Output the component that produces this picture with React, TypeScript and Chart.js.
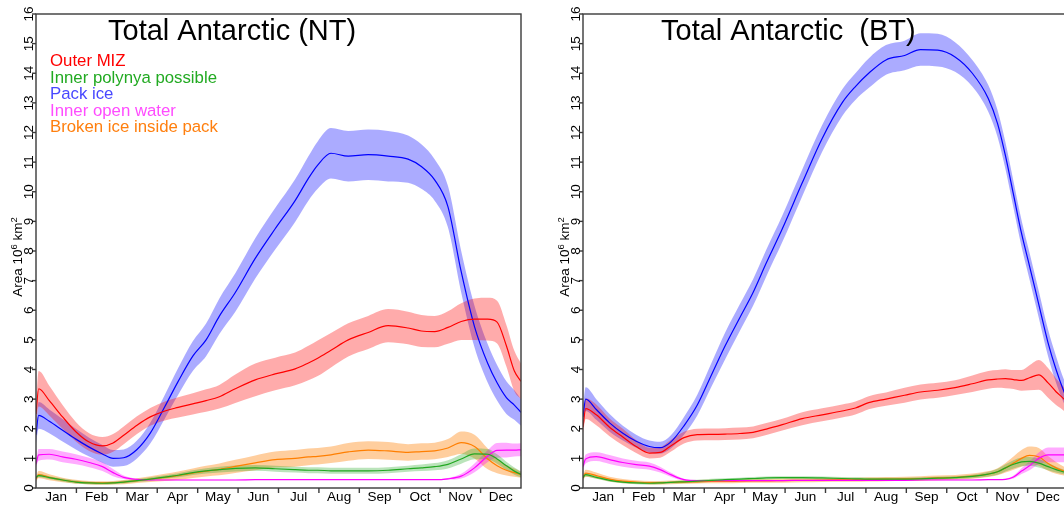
import React, { useEffect, useRef } from "react";
import { Chart, registerables } from "chart.js";

Chart.register(...registerables);

// ---------- texts ----------
const MONTH_LABELS = ["Jan", "Feb", "Mar", "Apr", "May", "Jun", "Jul", "Aug", "Sep", "Oct", "Nov", "Dec"];
const Y_TICKS = [0, 1, 2, 3, 4, 5, 6, 7, 8, 9, 10, 11, 12, 13, 14, 15, 16];
const SERIES_NAMES = ["Outer MIZ", "Inner polynya possible", "Pack ice", "Inner open water", "Broken ice inside pack"];
const NT_TITLE = "Total Antarctic (NT)";
const BT_TITLE = "Total Antarctic  (BT)";
const Y_TITLE_MAIN = "Area 10";
const Y_TITLE_SUP1 = "6";
const Y_TITLE_UNIT = " km";
const Y_TITLE_SUP2 = "2";

// ---------- NT panel data (day of year, mean, half-spread) ----------
const NT_DAYS = [0, 2, 10, 20, 30, 40, 50, 58, 66, 76, 86, 97, 107, 118, 128, 138, 150, 165, 180, 195, 205, 212, 222, 235, 250, 265, 280, 290, 300, 310, 320, 330, 340, 347, 354, 360, 365];
const NT_OUTER_MIZ = [2.5, 3.35, 2.95, 2.4, 1.9, 1.55, 1.42, 1.52, 1.78, 2.12, 2.4, 2.6, 2.72, 2.84, 2.95, 3.08, 3.35, 3.65, 3.85, 4.02, 4.22, 4.38, 4.65, 5.0, 5.25, 5.48, 5.4, 5.3, 5.28, 5.42, 5.62, 5.7, 5.7, 5.6, 4.8, 3.95, 3.6];
const NT_OUTER_MIZ_SPREAD = [0.3, 0.6, 0.5, 0.4, 0.33, 0.3, 0.3, 0.3, 0.3, 0.3, 0.3, 0.32, 0.34, 0.36, 0.38, 0.4, 0.48, 0.55, 0.55, 0.55, 0.58, 0.6, 0.58, 0.56, 0.56, 0.56, 0.55, 0.54, 0.53, 0.55, 0.62, 0.7, 0.72, 0.72, 0.7, 0.68, 0.6];
const NT_INNER_POLYNYA = [0.35, 0.42, 0.35, 0.27, 0.2, 0.17, 0.16, 0.17, 0.2, 0.25, 0.3, 0.37, 0.43, 0.52, 0.58, 0.62, 0.66, 0.68, 0.65, 0.62, 0.6, 0.6, 0.58, 0.58, 0.58, 0.6, 0.65, 0.68, 0.72, 0.8, 0.98, 1.15, 1.14, 0.98, 0.75, 0.57, 0.46];
const NT_INNER_POLYNYA_SPREAD = [0.05, 0.06, 0.05, 0.05, 0.05, 0.04, 0.04, 0.04, 0.05, 0.05, 0.06, 0.06, 0.07, 0.08, 0.09, 0.1, 0.1, 0.1, 0.1, 0.1, 0.1, 0.1, 0.1, 0.1, 0.1, 0.1, 0.1, 0.11, 0.12, 0.14, 0.16, 0.18, 0.18, 0.16, 0.14, 0.12, 0.1];
const NT_PACK_ICE = [1.8, 2.45, 2.25, 1.95, 1.65, 1.38, 1.15, 1.0, 1.02, 1.3, 1.85, 2.75, 3.6, 4.45, 5.0, 5.8, 6.6, 7.75, 8.75, 9.7, 10.45, 10.9, 11.3, 11.2, 11.25, 11.2, 11.1, 10.85, 10.4, 9.5, 7.3, 5.45, 4.2, 3.55, 3.05, 2.8, 2.55];
const NT_PACK_ICE_SPREAD = [0.3, 0.45, 0.4, 0.38, 0.35, 0.32, 0.3, 0.28, 0.28, 0.3, 0.35, 0.4, 0.45, 0.5, 0.55, 0.6, 0.65, 0.68, 0.7, 0.72, 0.75, 0.8, 0.85, 0.85, 0.85, 0.85, 0.8, 0.75, 0.7, 0.7, 0.7, 0.7, 0.65, 0.6, 0.55, 0.5, 0.45];
const NT_INNER_OPEN_WATER = [0.8, 1.12, 1.14, 1.05, 0.97, 0.86, 0.72, 0.52, 0.36, 0.29, 0.27, 0.27, 0.27, 0.27, 0.27, 0.27, 0.27, 0.28, 0.28, 0.28, 0.28, 0.28, 0.28, 0.28, 0.28, 0.28, 0.28, 0.28, 0.28, 0.31, 0.4, 0.68, 1.08, 1.27, 1.28, 1.28, 1.29];
const NT_INNER_OPEN_WATER_SPREAD = [0.1, 0.2, 0.18, 0.18, 0.17, 0.16, 0.15, 0.12, 0.06, 0.02, 0.01, 0.01, 0.01, 0.01, 0.01, 0.01, 0.01, 0.01, 0.01, 0.01, 0.01, 0.01, 0.01, 0.01, 0.01, 0.01, 0.01, 0.01, 0.01, 0.03, 0.08, 0.15, 0.2, 0.25, 0.25, 0.22, 0.22];
const NT_BROKEN_ICE = [0.3, 0.45, 0.36, 0.27, 0.21, 0.18, 0.17, 0.18, 0.2, 0.25, 0.3, 0.36, 0.42, 0.5, 0.57, 0.63, 0.73, 0.85, 0.96, 1.0, 1.05, 1.07, 1.12, 1.22, 1.28, 1.25, 1.2, 1.23, 1.25, 1.35, 1.53, 1.4, 0.98, 0.75, 0.6, 0.52, 0.45];
const NT_BROKEN_ICE_SPREAD = [0.08, 0.12, 0.1, 0.08, 0.07, 0.06, 0.06, 0.06, 0.07, 0.08, 0.1, 0.12, 0.14, 0.16, 0.18, 0.2, 0.22, 0.25, 0.27, 0.28, 0.28, 0.28, 0.28, 0.3, 0.3, 0.3, 0.28, 0.28, 0.28, 0.3, 0.38, 0.4, 0.35, 0.25, 0.18, 0.14, 0.1];

// ---------- BT panel data ----------
const BT_DAYS = [0, 2, 10, 20, 30, 40, 50, 58, 66, 76, 86, 97, 107, 118, 128, 138, 150, 165, 180, 195, 205, 215, 228, 242, 254, 267, 280, 293, 305, 312, 318, 324, 330, 336, 343, 350, 356, 362, 365];
const BT_OUTER_MIZ = [2.05, 2.68, 2.47, 2.05, 1.72, 1.4, 1.18, 1.2, 1.42, 1.7, 1.8, 1.81, 1.82, 1.84, 1.88, 1.99, 2.14, 2.34, 2.47, 2.6, 2.7, 2.88, 3.0, 3.13, 3.24, 3.3, 3.39, 3.52, 3.65, 3.68, 3.69, 3.66, 3.63, 3.72, 3.82, 3.55, 3.25, 3.0, 2.85];
const BT_OUTER_MIZ_SPREAD = [0.2, 0.35, 0.35, 0.3, 0.28, 0.22, 0.18, 0.18, 0.2, 0.2, 0.2, 0.2, 0.2, 0.2, 0.2, 0.2, 0.2, 0.22, 0.22, 0.22, 0.22, 0.22, 0.22, 0.25, 0.25, 0.25, 0.25, 0.28, 0.3, 0.3, 0.32, 0.32, 0.35, 0.42, 0.5, 0.5, 0.45, 0.4, 0.4];
const BT_INNER_POLYNYA = [0.35, 0.45, 0.36, 0.26, 0.2, 0.17, 0.16, 0.17, 0.19, 0.21, 0.23, 0.26, 0.28, 0.3, 0.32, 0.34, 0.35, 0.35, 0.34, 0.32, 0.31, 0.3, 0.3, 0.3, 0.31, 0.33, 0.35, 0.39, 0.47, 0.55, 0.68, 0.8, 0.88, 0.9, 0.84, 0.72, 0.62, 0.54, 0.5];
const BT_INNER_POLYNYA_SPREAD = [0.05, 0.06, 0.05, 0.05, 0.04, 0.04, 0.04, 0.04, 0.04, 0.05, 0.05, 0.05, 0.05, 0.05, 0.05, 0.05, 0.05, 0.05, 0.05, 0.05, 0.05, 0.05, 0.05, 0.05, 0.05, 0.05, 0.05, 0.06, 0.08, 0.1, 0.12, 0.14, 0.15, 0.15, 0.15, 0.12, 0.1, 0.08, 0.08];
const BT_PACK_ICE = [2.4, 3.0, 2.65, 2.2, 1.85, 1.58, 1.4, 1.36, 1.55, 2.1, 2.8, 3.85, 4.8, 5.75, 6.6, 7.6, 8.75, 10.3, 11.8, 13.0, 13.55, 14.0, 14.45, 14.6, 14.8, 14.78, 14.55, 14.0, 13.15, 12.3, 11.2, 9.9, 8.6, 7.5, 6.2, 4.9, 4.0, 3.25, 2.95];
const BT_PACK_ICE_SPREAD = [0.3, 0.4, 0.35, 0.3, 0.25, 0.22, 0.2, 0.2, 0.22, 0.3, 0.35, 0.4, 0.45, 0.45, 0.45, 0.45, 0.45, 0.45, 0.45, 0.45, 0.45, 0.5, 0.5, 0.5, 0.55, 0.55, 0.5, 0.45, 0.45, 0.45, 0.45, 0.45, 0.45, 0.45, 0.45, 0.45, 0.45, 0.4, 0.4];
const BT_INNER_OPEN_WATER = [0.72, 0.98, 1.06, 0.96, 0.86, 0.79, 0.74, 0.62, 0.45, 0.28, 0.25, 0.25, 0.25, 0.25, 0.25, 0.25, 0.25, 0.26, 0.26, 0.26, 0.26, 0.26, 0.26, 0.26, 0.27, 0.27, 0.27, 0.27, 0.28, 0.28, 0.29, 0.37, 0.57, 0.75, 1.0, 1.12, 1.12, 1.12, 1.12];
const BT_INNER_OPEN_WATER_SPREAD = [0.1, 0.15, 0.15, 0.15, 0.14, 0.13, 0.12, 0.1, 0.07, 0.03, 0.01, 0.01, 0.01, 0.01, 0.01, 0.01, 0.01, 0.01, 0.01, 0.01, 0.01, 0.01, 0.01, 0.01, 0.01, 0.01, 0.01, 0.01, 0.01, 0.01, 0.02, 0.05, 0.1, 0.15, 0.2, 0.25, 0.25, 0.25, 0.25];
const BT_BROKEN_ICE = [0.35, 0.5, 0.42, 0.3, 0.23, 0.2, 0.18, 0.18, 0.19, 0.2, 0.21, 0.22, 0.22, 0.23, 0.24, 0.24, 0.25, 0.26, 0.27, 0.28, 0.28, 0.29, 0.3, 0.31, 0.32, 0.34, 0.36, 0.4, 0.47, 0.55, 0.68, 0.84, 1.0, 1.1, 1.05, 0.83, 0.68, 0.57, 0.52];
const BT_BROKEN_ICE_SPREAD = [0.1, 0.12, 0.1, 0.08, 0.07, 0.06, 0.06, 0.06, 0.06, 0.06, 0.06, 0.06, 0.06, 0.06, 0.06, 0.06, 0.07, 0.07, 0.07, 0.07, 0.07, 0.07, 0.07, 0.07, 0.08, 0.08, 0.08, 0.09, 0.1, 0.12, 0.16, 0.22, 0.28, 0.3, 0.3, 0.25, 0.2, 0.15, 0.12];

// ---------- styles ----------
const FONT = '"Liberation Sans", Arial, Helvetica, sans-serif';
const LINE_COLORS = ["#FF0000", "#22A822", "#0000FF", "#FF00FF", "#FF7F00"];
const BAND_COLORS = [
  "rgba(255,0,0,0.33)",
  "rgba(40,170,40,0.32)",
  "rgba(0,0,255,0.33)",
  "rgba(255,0,255,0.33)",
  "rgba(255,127,0,0.38)",
];
const LEGEND_COLORS = ["#FF0000", "#22AA22", "#4848FF", "#FF4CFF", "#FF7F0E"];
const AXIS_COLOR = "#3a3a3a";

type Series = { mean: number[]; spread: number[] };

function buildDatasets(days: number[], series: Series[]) {
  const ds: any[] = [];
  series.forEach((s, i) => {
    ds.push({
      data: days.map((d, k) => ({ x: d, y: s.mean[k] + s.spread[k] })),
      borderColor: "rgba(0,0,0,0)",
      borderWidth: 0,
      backgroundColor: BAND_COLORS[i],
      fill: "+1",
      pointRadius: 0,
      cubicInterpolationMode: "monotone",
      order: 20 + i,
    });
    ds.push({
      data: days.map((d, k) => ({ x: d, y: Math.max(0, s.mean[k] - s.spread[k]) })),
      borderColor: "rgba(0,0,0,0)",
      borderWidth: 0,
      backgroundColor: "rgba(0,0,0,0)",
      fill: false,
      pointRadius: 0,
      cubicInterpolationMode: "monotone",
      order: 20 + i,
    });
  });
  series.forEach((s, i) => {
    ds.push({
      data: days.map((d, k) => ({ x: d, y: s.mean[k] })),
      borderColor: LINE_COLORS[i],
      borderWidth: 1.2,
      fill: false,
      pointRadius: 0,
      cubicInterpolationMode: "monotone",
      order: i,
    });
  });
  return ds;
}

function makeDecor(title: string, titleOffset: number, showLegend: boolean) {
  return {
    id: "decor",
    afterDraw(chart: any) {
      const { ctx, chartArea: a, scales } = chart;
      const x = scales.x;
      const y = scales.y;
      ctx.save();
      // frame
      ctx.strokeStyle = AXIS_COLOR;
      ctx.lineWidth = 1.4;
      ctx.strokeRect(a.left, a.top, a.right - a.left, a.bottom - a.top);

      // y ticks and labels
      ctx.fillStyle = "#000";
      ctx.font = `13.5px ${FONT}`;
      Y_TICKS.forEach((v) => {
        const py = y.getPixelForValue(v);
        ctx.beginPath();
        ctx.moveTo(a.left - 4, py);
        ctx.lineTo(a.left, py);
        ctx.stroke();
        ctx.save();
        ctx.translate(a.left - 3.5, py);
        ctx.rotate(-Math.PI / 2);
        ctx.textAlign = "center";
        ctx.textBaseline = "alphabetic";
        ctx.fillText(String(v), 0, 0);
        ctx.restore();
      });

      // x ticks (equal month spacing) and month labels
      const span = x.max - x.min;
      for (let i = 1; i < 12; i++) {
        const px = x.getPixelForValue(x.min + (span * i) / 12);
        ctx.beginPath();
        ctx.moveTo(px, a.bottom);
        ctx.lineTo(px, a.bottom + 5);
        ctx.stroke();
      }
      ctx.textAlign = "center";
      ctx.textBaseline = "alphabetic";
      MONTH_LABELS.forEach((m, i) => {
        const px = x.getPixelForValue(x.min + (span * (i + 0.5)) / 12);
        ctx.fillText(m, px, a.bottom + 13);
      });

      // y axis title with superscripts
      const parts: [string, string, number][] = [
        [Y_TITLE_MAIN, `13.5px ${FONT}`, 0],
        [Y_TITLE_SUP1, `9.5px ${FONT}`, -5],
        [Y_TITLE_UNIT, `13.5px ${FONT}`, 0],
        [Y_TITLE_SUP2, `9.5px ${FONT}`, -5],
      ];
      ctx.save();
      ctx.translate(a.left - 14.5, 257);
      ctx.rotate(-Math.PI / 2);
      let total = 0;
      parts.forEach((p) => {
        ctx.font = p[1];
        total += ctx.measureText(p[0]).width;
      });
      let cx = -total / 2;
      ctx.textAlign = "left";
      parts.forEach((p) => {
        ctx.font = p[1];
        ctx.fillText(p[0], cx, p[2]);
        cx += ctx.measureText(p[0]).width;
      });
      ctx.restore();

      // panel title
      ctx.textAlign = "left";
      ctx.fillStyle = "#000";
      ctx.font = `29px ${FONT}`;
      ctx.fillText(title, a.left + titleOffset, 40);

      // text legend
      if (showLegend) {
        ctx.font = `16.8px ${FONT}`;
        SERIES_NAMES.forEach((n, i) => {
          ctx.fillStyle = LEGEND_COLORS[i];
          ctx.fillText(n, a.left + 14, 66 + i * 16.6);
        });
      }
      ctx.restore();
    },
  };
}

type PanelProps = {
  left: number;
  width: number;
  padding: { left: number; right: number; top: number; bottom: number };
  title: string;
  titleOffset: number;
  days: number[];
  series: Series[];
  showLegend: boolean;
};

function Panel(props: PanelProps) {
  const ref = useRef<HTMLCanvasElement>(null);
  useEffect(() => {
    if (!ref.current) return;
    const chart = new Chart(ref.current, {
      type: "line",
      data: { datasets: buildDatasets(props.days, props.series) },
      options: {
        animation: false,
        responsive: false,
        maintainAspectRatio: false,
        events: [],
        layout: { padding: props.padding },
        plugins: {
          legend: { display: false },
          tooltip: { enabled: false },
          title: { display: false },
        },
        scales: {
          x: { type: "linear", min: 0, max: 365, display: false },
          y: { type: "linear", min: 0, max: 16, display: false },
        },
      },
      plugins: [makeDecor(props.title, props.titleOffset, props.showLegend)],
    } as any);
    return () => chart.destroy();
  }, []);
  return (
    <canvas
      ref={ref}
      width={props.width}
      height={506}
      style={{ position: "absolute", left: props.left, top: 0, width: props.width, height: 506 }}
    />
  );
}

export default function App() {
  const ntSeries: Series[] = [
    { mean: NT_OUTER_MIZ, spread: NT_OUTER_MIZ_SPREAD },
    { mean: NT_INNER_POLYNYA, spread: NT_INNER_POLYNYA_SPREAD },
    { mean: NT_PACK_ICE, spread: NT_PACK_ICE_SPREAD },
    { mean: NT_INNER_OPEN_WATER, spread: NT_INNER_OPEN_WATER_SPREAD },
    { mean: NT_BROKEN_ICE, spread: NT_BROKEN_ICE_SPREAD },
  ];
  const btSeries: Series[] = [
    { mean: BT_OUTER_MIZ, spread: BT_OUTER_MIZ_SPREAD },
    { mean: BT_INNER_POLYNYA, spread: BT_INNER_POLYNYA_SPREAD },
    { mean: BT_PACK_ICE, spread: BT_PACK_ICE_SPREAD },
    { mean: BT_INNER_OPEN_WATER, spread: BT_INNER_OPEN_WATER_SPREAD },
    { mean: BT_BROKEN_ICE, spread: BT_BROKEN_ICE_SPREAD },
  ];
  return (
    <div
      style={{
        position: "fixed",
        left: 0,
        top: 0,
        width: 1064,
        height: 506,
        overflow: "hidden",
        background: "#fff",
      }}
    >
      <Panel
        left={0}
        width={545}
        padding={{ left: 36, right: 24, top: 14, bottom: 18 }}
        title={NT_TITLE}
        titleOffset={72}
        days={NT_DAYS}
        series={ntSeries}
        showLegend={true}
      />
      <Panel
        left={545}
        width={540}
        padding={{ left: 38, right: 17, top: 14, bottom: 18 }}
        title={BT_TITLE}
        titleOffset={78}
        days={BT_DAYS}
        series={btSeries}
        showLegend={false}
      />
    </div>
  );
}
